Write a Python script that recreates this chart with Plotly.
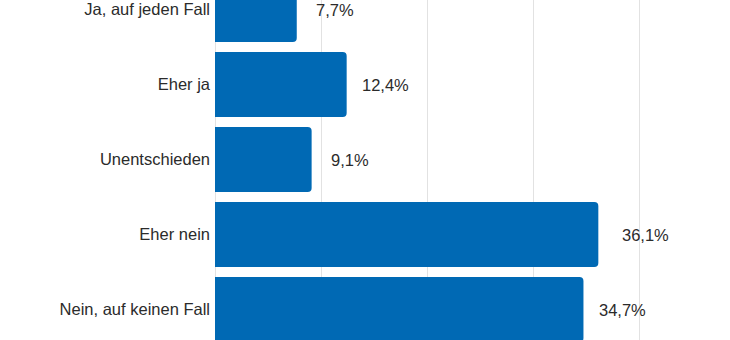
import plotly.graph_objects as go

# Survey answers and their shares in percent
categories = ["Ja, auf jeden Fall", "Eher ja", "Unentschieden", "Eher nein", "Nein, auf keinen Fall"]
values = [7.7, 12.4, 9.1, 36.1, 34.7]
value_labels = ["7,7%", "12,4%", "9,1%", "36,1%", "34,7%"]
label_shift_px = [38, 39, 38, 47, 39]

bar_color = "#0069B4"
text_color = "#2b2b2b"
font_family = "Liberation Sans, Arial, sans-serif"

positions = list(range(len(categories)))

fig = go.Figure(
    go.Bar(
        x=values,
        y=positions,
        orientation="h",
        marker=dict(color=bar_color, line=dict(width=0)),
        hoverinfo="skip",
    )
)

for pos, val, lab, shift in zip(positions, values, value_labels, label_shift_px):
    fig.add_annotation(
        x=val, y=pos, text=lab, showarrow=False,
        xanchor="center", yanchor="middle", xshift=shift,
        font=dict(size=16.5, color=text_color, family=font_family),
    )

fig.update_layout(
    width=730, height=340,
    margin=dict(l=215, r=0, t=0, b=0),
    paper_bgcolor="white", plot_bgcolor="white",
    bargap=0.133,
    barcornerradius=4,
    showlegend=False,
    font=dict(family=font_family, size=16.5, color=text_color),
    xaxis=dict(
        range=[0, 48.5],
        tickvals=[0, 10, 20, 30, 40],
        showticklabels=False,
        showgrid=True, gridcolor="#e2e2e2", gridwidth=1,
        zeroline=True, zerolinecolor="#e2e2e2", zerolinewidth=1,
        fixedrange=True,
    ),
    yaxis=dict(
        range=[4.4067, -0.1267],
        tickvals=positions,
        ticktext=categories,
        ticks="",
        ticklabelstandoff=4,
        showgrid=False, zeroline=False,
        tickfont=dict(size=16.5, color=text_color, family=font_family),
        fixedrange=True,
    ),
)

fig.write_html("out.html")
